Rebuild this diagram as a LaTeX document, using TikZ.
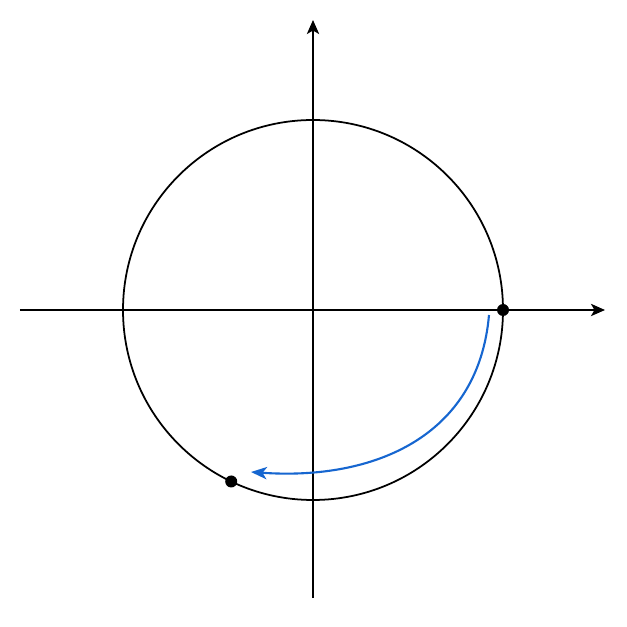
\documentclass[tikz,border=0pt]{standalone}
\usepackage{tikz}
\usetikzlibrary{arrows.meta}
\definecolor{arcblue}{RGB}{22,102,208}
\begin{document}
\begin{tikzpicture}[line width=1pt,
  axisarrow/.style={-{Stealth[length=8pt,width=7pt,inset=2pt]}}]
\useasboundingbox (-6.26,-6.34) rectangle (6.28,6.2);
\coordinate (O) at (0,0);
\coordinate (xl) at (-5.86,0);
\coordinate (xr) at (5.84,0);
\coordinate (yb) at (0,-5.76);
\coordinate (yt) at (0,5.8);
\coordinate (P) at (0:3.8);
\coordinate (Q) at (-115.5:3.8);
\coordinate (s) at (3.52,-0.1);
\coordinate (e) at (-1.24,-3.24);
\draw [axisarrow] (xl) -- (xr);
\draw [axisarrow] (yb) -- (yt);
\draw (O) circle (3.8);
\fill (P) circle (0.12);
\fill (Q) circle (0.12);
%
\draw [arcblue, line width=1.2pt, -{Stealth[length=9pt,width=7pt,inset=2.4pt]}]
  (s) to[out=-95,in=-4,looseness=1.1] (e);
%
\end{tikzpicture}
\end{document}
